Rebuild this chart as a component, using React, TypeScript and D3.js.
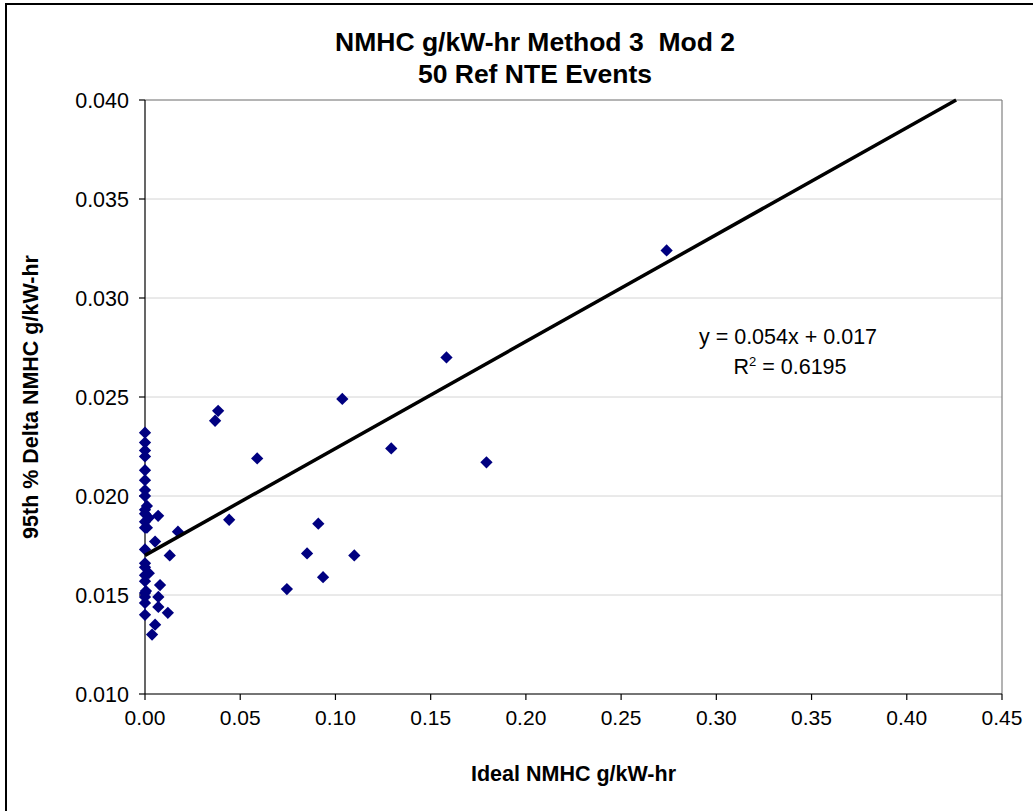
import React from "react";
import * as d3 from "d3";

const xValues: number[] = [
  0, 0, 0, 0, 0, 0, 0, 0, 0, 0, 0, 0, 0, 0, 0, 0, 0, 0, 0, 0, 0,
  0.0069, 0.0173, 0.0053, 0.013, 0.0079, 0.007, 0.007, 0.012, 0.0053, 0.0037,
  0.001, 0.002, 0.001, 0.002, 0.0005,
  0.0368, 0.0384, 0.0442, 0.0589, 0.0745, 0.0851, 0.091, 0.0935, 0.1036, 0.1099,
  0.1293, 0.1583, 0.1793, 0.2739,
];
const yValues: number[] = [
  0.0232, 0.0227, 0.0223, 0.022, 0.0213, 0.0208, 0.0203, 0.02, 0.0193, 0.0191,
  0.0187, 0.0184, 0.0173, 0.0166, 0.0164, 0.016, 0.0157, 0.0151, 0.0149, 0.0146, 0.014,
  0.019, 0.0182, 0.0177, 0.017, 0.0155, 0.0149, 0.0144, 0.0141, 0.0135, 0.013,
  0.0195, 0.0189, 0.0184, 0.0161, 0.0152,
  0.0238, 0.0243, 0.0188, 0.0219, 0.0153, 0.0171, 0.0186, 0.0159, 0.0249, 0.017,
  0.0224, 0.027, 0.0217, 0.0324,
];
const xTicks: number[] = [0, 0.05, 0.1, 0.15, 0.2, 0.25, 0.3, 0.35, 0.4, 0.45];
const yTicks: number[] = [0.01, 0.015, 0.02, 0.025, 0.03, 0.035, 0.04];
const trendSlope = 0.054;
const trendIntercept = 0.017;
const titleLines: string[] = ["NMHC g/kW-hr Method 3  Mod 2", "50 Ref NTE Events"];
const xAxisTitle = "Ideal NMHC g/kW-hr";
const yAxisTitle = "95th % Delta NMHC g/kW-hr";
const equationText = "y = 0.054x + 0.017";
const r2Value = "0.6195";

const W = 1033;
const H = 811;
const left = 145;
const right = 1002;
const top = 100;
const bottom = 694;
const font = "'Liberation Sans', Arial, sans-serif";

export default function App() {
  const x = d3.scaleLinear().domain([0, 0.45]).range([left, right]);
  const y = d3.scaleLinear().domain([0.01, 0.04]).range([bottom, top]);
  const points = xValues.map((v, i) => ({ x: v, y: yValues[i] }));
  const xEnd = Math.min(0.45, (0.04 - trendIntercept) / trendSlope);
  const trendLine = d3.line<number>()
    .x((d) => x(d))
    .y((d) => y(trendSlope * d + trendIntercept))([0, xEnd]);
  const diamond = d3.symbol().type(d3.symbolDiamond2).size(96)();
  const fmtX = d3.format(".2f");
  const fmtY = d3.format(".3f");
  const cx = (left + right) / 2;

  return (
    <svg
      width={W}
      height={H}
      style={{ position: "absolute", left: 0, top: 0, background: "#fff" }}
      fontFamily={font}
    >
      <rect x={0} y={0} width={W} height={H} fill="#fff" />
      <rect x={6} y={4} width={1060} height={840} fill="none" stroke="#000" strokeWidth={2} />
      {yTicks.map((t) => (
        <line key={"g" + t} x1={left} x2={right} y1={y(t)} y2={y(t)} stroke="#d4d4d4" strokeWidth={1} />
      ))}
      <line x1={left} x2={right} y1={top} y2={top} stroke="#808080" strokeWidth={1.2} />
      <line x1={right} x2={right} y1={top} y2={bottom} stroke="#808080" strokeWidth={1.2} />
      <line x1={left} x2={left} y1={top} y2={bottom} stroke="#000" strokeWidth={1.2} />
      <line x1={left} x2={right} y1={bottom} y2={bottom} stroke="#000" strokeWidth={1.2} />
      {yTicks.map((t) => (
        <g key={"yt" + t}>
          <line x1={left - 6} x2={left} y1={y(t)} y2={y(t)} stroke="#000" strokeWidth={1.2} />
          <text x={left - 16} y={y(t)} dy="0.35em" textAnchor="end" fontSize={21.5} fill="#000">
            {fmtY(t)}
          </text>
        </g>
      ))}
      {xTicks.map((t) => (
        <g key={"xt" + t}>
          <line x1={x(t)} x2={x(t)} y1={bottom} y2={bottom + 6} stroke="#000" strokeWidth={1.2} />
          <text x={x(t)} y={bottom + 24} dy="0.35em" textAnchor="middle" fontSize={21} fill="#000">
            {fmtX(t)}
          </text>
        </g>
      ))}
      {points.map((p, i) => (
        <path key={"p" + i} d={diamond ?? ""} transform={`translate(${x(p.x)},${y(p.y)})`} fill="#000080" />
      ))}
      <path d={trendLine ?? ""} stroke="#000" strokeWidth={3.5} fill="none" />
      <text x={788} y={336} dy="0.35em" textAnchor="middle" fontSize={21.5} fill="#000">
        {equationText}
      </text>
      <text x={790} y={366} dy="0.35em" textAnchor="middle" fontSize={21.5} fill="#000">
        R<tspan dy="-8" fontSize={13}>2</tspan>
        <tspan dy="8">{" = " + r2Value}</tspan>
      </text>
      {titleLines.map((t, i) => (
        <text
          key={"t" + i}
          x={535}
          y={42 + i * 32}
          dy="0.35em"
          textAnchor="middle"
          fontSize={26.5}
          fontWeight="bold"
          fill="#000"
          style={{ whiteSpace: "pre" }}
        >
          {t}
        </text>
      ))}
      <text x={cx} y={773} dy="0.35em" textAnchor="middle" fontSize={21.5} fontWeight="bold" fill="#000">
        {xAxisTitle}
      </text>
      <text
        transform={`translate(30,${(top + bottom) / 2}) rotate(-90)`}
        dy="0.35em"
        textAnchor="middle"
        fontSize={21.5}
        fontWeight="bold"
        fill="#000"
      >
        {yAxisTitle}
      </text>
    </svg>
  );
}
